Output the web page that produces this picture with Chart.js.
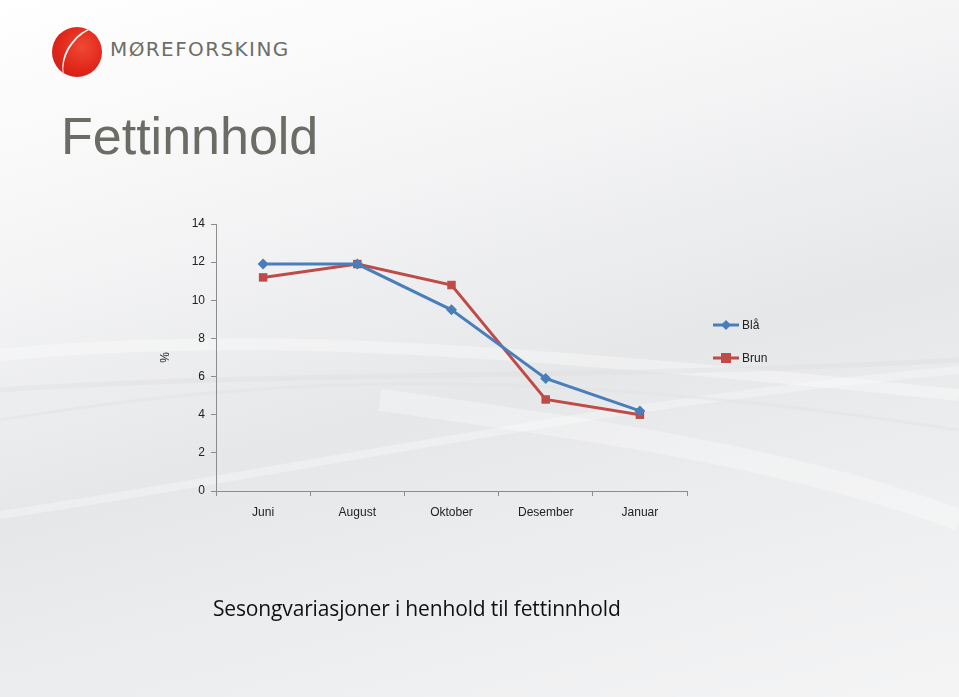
<!DOCTYPE html>
<html>
<head>
<meta charset="utf-8">
<script src="https://cdn.jsdelivr.net/npm/chart.js@4"></script>
<style>
  html, body { margin: 0; padding: 0; }
  body {
    width: 959px; height: 697px; overflow: hidden; position: relative;
    background: linear-gradient(165deg, #ffffff 0%, #f6f6f7 25%, #e6e7e9 55%, #eeeff0 80%, #f4f4f5 100%);
    font-family: "Liberation Sans", Arial, sans-serif;
  }
  #bg { position: absolute; left: 0; top: 0; }
  .logo-ball {
    position: absolute; left: 52px; top: 27px; width: 50px; height: 50px; border-radius: 50%;
    background: radial-gradient(circle at 60% 40%, #ef4a32 0%, #e0261a 55%, #c41a12 100%);
    overflow: hidden;
  }
  .logo-ball::after {
    content: ""; position: absolute; left: 14px; top: -4px; width: 50px; height: 70px;
    border-left: 2.5px solid #fff; border-radius: 50%; transform: rotate(38deg);
  }
  .logo-text {
    position: absolute; left: 110px; top: 37px; font-size: 20px; letter-spacing: 1.4px;
    color: #6d6e66; font-family: "DejaVu Sans", sans-serif;
  }
  .title {
    position: absolute; left: 61px; top: 106px; font-size: 52px; color: #6b6c66;
    font-family: "Liberation Sans", Arial, sans-serif;
  }
  .subtitle {
    position: absolute; left: 213px; top: 594px; font-size: 21px; color: #111;
    font-family: "Open Sans", sans-serif; letter-spacing: -0.15px;
  }
  #chart { position: absolute; left: 0; top: 0; }
</style>
</head>
<body>
<svg id="bg" width="959" height="697">
  <path d="M0,355 C250,330 520,350 959,395" stroke="#ffffff" stroke-width="12" fill="none" opacity="0.35"/>
  <path d="M0,390 C300,370 600,380 959,360" stroke="#dcdde0" stroke-width="5" fill="none" opacity="0.35"/>
  <path d="M0,515 C300,470 620,400 959,370" stroke="#ffffff" stroke-width="8" fill="none" opacity="0.3"/>
  <path d="M380,400 C600,430 800,460 959,520" stroke="#ffffff" stroke-width="22" fill="none" opacity="0.3"/>
  <path d="M0,420 C250,380 500,360 959,430" stroke="#dfe0e2" stroke-width="3" fill="none" opacity="0.4"/>
</svg>
<div class="logo-ball"></div>
<div class="logo-text">MØREFORSKING</div>
<div class="title">Fettinnhold</div>
<canvas id="chart" width="959" height="697"></canvas>
<div class="subtitle">Sesongvariasjoner i henhold til fettinnhold</div>
<script>
const months = ['Juni', 'August', 'Oktober', 'Desember', 'Januar'];
const blaValues = [11.9, 11.9, 9.5, 5.9, 4.2];
const brunValues = [11.2, 11.9, 10.8, 4.8, 4.0];
const seriesNames = ['Blå', 'Brun'];
const yTicks = [0, 2, 4, 6, 8, 10, 12, 14];

const BLUE = '#4a7ebb';
const RED = '#be4b48';

// legend drawn to the right of the plot, line + marker like the original
const sideLegend = {
    id: 'sideLegend',
    afterDraw(chart) {
        const { ctx } = chart;
        ctx.save();
        chart.data.datasets.forEach((ds, i) => {
            const y = 325 + i * 33;
            ctx.strokeStyle = ds.borderColor;
            ctx.lineWidth = 3;
            ctx.beginPath();
            ctx.moveTo(713, y);
            ctx.lineTo(739, y);
            ctx.stroke();
            ctx.fillStyle = ds.borderColor;
            if (ds.pointStyle === 'rectRot') {
                ctx.beginPath();
                ctx.moveTo(726, y - 5);
                ctx.lineTo(731, y);
                ctx.lineTo(726, y + 5);
                ctx.lineTo(721, y);
                ctx.closePath();
                ctx.fill();
            } else {
                ctx.fillRect(721, y - 5, 10, 10);
            }
            ctx.fillStyle = '#222';
            ctx.font = '12px "Liberation Sans", Arial, sans-serif';
            ctx.textBaseline = 'middle';
            ctx.fillText(ds.label, 742, y + 1);
        });
        ctx.restore();
    }
};

new Chart(document.getElementById('chart'), {
    type: 'line',
    plugins: [sideLegend],
    data: {
        labels: months,
        datasets: [{
            label: seriesNames[0],
            data: blaValues,
            borderColor: BLUE,
            backgroundColor: BLUE,
            borderWidth: 3,
            pointStyle: 'rectRot',
            pointRadius: 5.5,
            pointBorderWidth: 0,
            tension: 0
        }, {
            label: seriesNames[1],
            data: brunValues,
            borderColor: RED,
            backgroundColor: RED,
            borderWidth: 3,
            pointStyle: 'rect',
            pointRadius: 6,
            pointBorderWidth: 0,
            tension: 0
        }]
    },
    options: {
        responsive: false,
        animation: false,
        events: [],
        layout: { padding: { left: 150, top: 224, right: 272, bottom: 166 } },
        plugins: {
            legend: { display: false },
            tooltip: { enabled: false }
        },
        scales: {
            x: {
                offset: true,
                afterFit(scale) { scale.height = 40; },
                grid: { offset: true, drawOnChartArea: false, tickLength: 5, color: '#8c8c8c', lineWidth: 1 },
                border: { color: '#8c8c8c', width: 1 },
                ticks: {
                    color: '#222',
                    padding: 9,
                    font: { size: 12, family: '"Liberation Sans", Arial, sans-serif' },
                    maxRotation: 0
                }
            },
            y: {
                min: 0,
                max: 14,
                afterFit(scale) { scale.width = 66; },
                afterBuildTicks(scale) { scale.ticks = yTicks.map(v => ({ value: v })); },
                title: {
                    display: true,
                    text: '%',
                    color: '#222',
                    padding: { top: 8, bottom: 0 },
                    font: { size: 12, family: '"Liberation Sans", Arial, sans-serif' }
                },
                grid: { drawOnChartArea: false, tickLength: 5, color: '#8c8c8c' },
                border: { color: '#8c8c8c', width: 1 },
                ticks: {
                    color: '#222',
                    padding: 6,
                    font: { size: 12, family: '"Liberation Sans", Arial, sans-serif' }
                }
            }
        }
    }
});
</script>
</body>
</html>
